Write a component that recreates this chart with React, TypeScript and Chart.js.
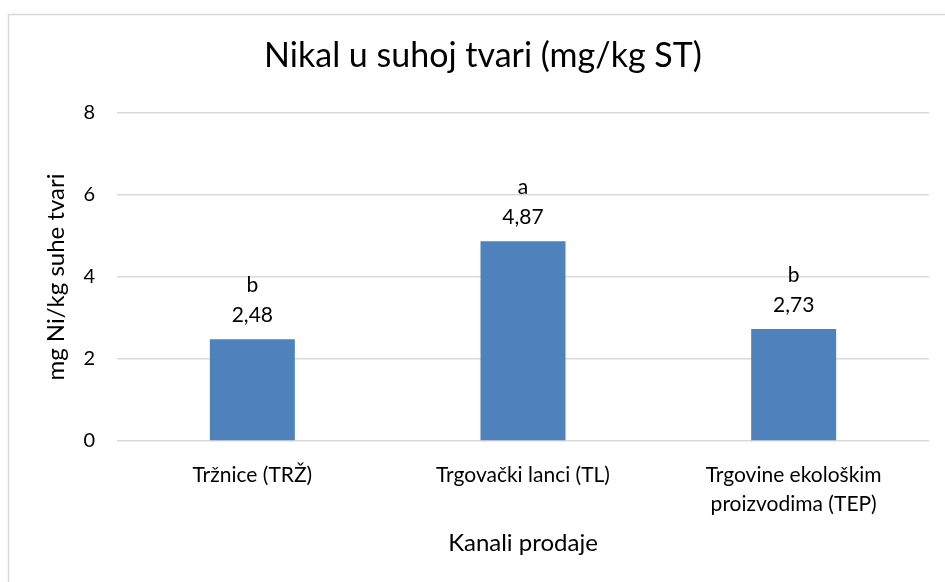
import React, { useEffect, useRef } from "react";
import { Chart, registerables } from "chart.js";

Chart.register(...registerables);

const chartTitle = "Nikal u suhoj tvari (mg/kg ST)";
const categories: (string | string[])[] = [
  "Tržnice (TRŽ)",
  "Trgovački lanci (TL)",
  ["Trgovine ekološkim", "proizvodima (TEP)"],
];
const values = [2.48, 4.87, 2.73];
const letters = ["b", "a", "b"];
const yTitle = "mg Ni/kg suhe tvari";
const xTitle = "Kanali prodaje";
const yMin = 0;
const yMax = 8;
const yStep = 2;

const FONT = "Lato";
const TEXT = "#000000";
const GRID = "#d9d9d9";
const BAR = "#4f81bd";

const W = 960;
const H = 582;

const fmt = (v: number) => v.toFixed(2).replace(".", ",");

const borderPlugin = {
  id: "frameBorder",
  beforeDraw(chart: any) {
    const ctx = chart.ctx;
    ctx.save();
    ctx.fillStyle = "#ffffff";
    ctx.fillRect(0, 0, chart.width, chart.height);
    ctx.strokeStyle = GRID;
    ctx.lineWidth = 1.5;
    ctx.strokeRect(8.5, 14.5, 949.5, 700);
    ctx.restore();
  },
};

const labelPlugin = {
  id: "barLabels",
  afterDatasetsDraw(chart: any) {
    const ctx = chart.ctx;
    const meta = chart.getDatasetMeta(0);
    ctx.save();
    ctx.fillStyle = TEXT;
    ctx.textAlign = "center";
    ctx.textBaseline = "alphabetic";
    ctx.font = `21px ${FONT}`;
    meta.data.forEach((bar: any, i: number) => {
      ctx.fillText(fmt(values[i]), bar.x, bar.y - 17);
      ctx.fillText(letters[i], bar.x, bar.y - 47);
    });
    ctx.restore();
  },
};

export default function App() {
  const ref = useRef<HTMLCanvasElement | null>(null);

  useEffect(() => {
    if (!ref.current) return;
    const chart = new Chart(ref.current, {
      type: "bar",
      data: {
        labels: categories as any,
        datasets: [
          {
            data: values,
            backgroundColor: BAR,
            borderWidth: 0,
            barPercentage: 0.314,
            categoryPercentage: 1,
          },
        ],
      },
      options: {
        animation: false,
        responsive: false,
        maintainAspectRatio: false,
        devicePixelRatio: 1,
        layout: { padding: { left: 37, right: 31, top: 0, bottom: 0 } },
        plugins: {
          legend: { display: false },
          tooltip: { enabled: false },
          title: {
            display: true,
            text: chartTitle,
            color: TEXT,
            font: { family: FONT, size: 34, weight: "normal" },
            padding: { top: 35.6, bottom: 36.6 },
          },
        },
        scales: {
          x: {
            grid: { display: false, drawTicks: false },
            border: { display: false },
            ticks: {
              color: TEXT,
              font: { family: FONT, size: 21, lineHeight: 1.38 },
              padding: 19.5,
              maxRotation: 0,
              autoSkip: false,
            },
            title: {
              display: true,
              text: xTitle,
              color: TEXT,
              font: { family: FONT, size: 24 },
              padding: { top: 0, bottom: 24.6 },
            },
            afterFit(scale: any) {
              scale.height = 141;
            },
          },
          y: {
            min: yMin,
            max: yMax,
            grid: { color: GRID, lineWidth: 1.5, drawTicks: false },
            border: { display: false },
            ticks: {
              stepSize: yStep,
              color: TEXT,
              font: { family: FONT, size: 20 },
              padding: 22,
            },
            title: {
              display: true,
              text: yTitle,
              color: TEXT,
              font: { family: FONT, size: 24 },
              padding: { top: 4.6, bottom: 0 },
            },
            afterFit(scale: any) {
              scale.width = 80;
            },
          },
        },
      },
      plugins: [borderPlugin, labelPlugin],
    });
    return () => chart.destroy();
  }, []);

  return (
    <div
      style={{
        position: "fixed",
        left: 0,
        top: 0,
        width: 945,
        height: 582,
        overflow: "hidden",
        background: "#fff",
      }}
    >
      <canvas ref={ref} width={W} height={H} style={{ width: W, height: H, display: "block" }} />
    </div>
  );
}
